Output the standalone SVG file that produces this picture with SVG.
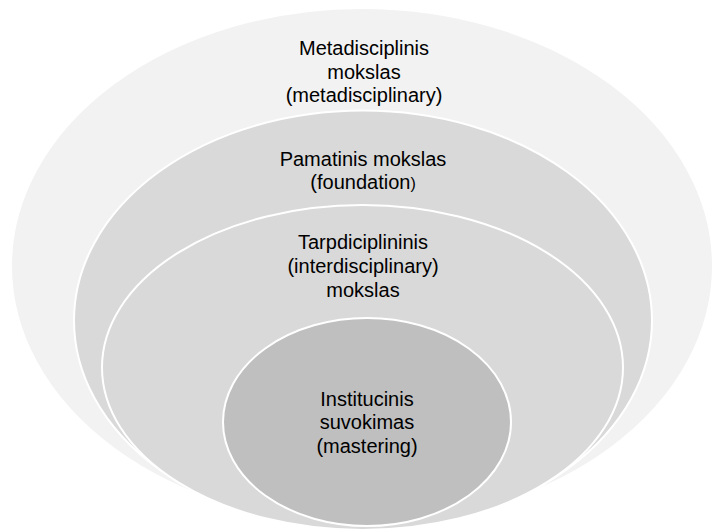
<svg xmlns="http://www.w3.org/2000/svg" width="714" height="532" viewBox="0 0 714 532">
<style>
.lbl{font-family:"Liberation Sans",Arial,sans-serif;font-size:20px;fill:#000;text-anchor:middle}
.ring{stroke:#fff;stroke-width:2}
</style>
<rect width="714" height="532" fill="#fff"/>
<g id="node-metadisciplinary">
<ellipse class="ring" cx="362" cy="266" rx="351" ry="258" fill="#f2f2f2"/>
<text class="lbl" x="364" y="55">Metadisciplinis</text>
<text class="lbl" x="364" y="79">mokslas</text>
<text class="lbl" x="364" y="102">(metadisciplinary)</text>
</g>
<g id="node-foundation">
<ellipse class="ring" cx="363" cy="320.5" rx="289" ry="210" fill="#d9d9d9"/>
<text class="lbl" x="363" y="166">Pamatinis mokslas</text>
<text class="lbl" x="363" y="189">(foundation<tspan font-size="16">)</tspan></text>
</g>
<g id="node-interdisciplinary">
<ellipse class="ring" cx="362.5" cy="367.5" rx="260.5" ry="162.5" fill="#d9d9d9"/>
<text class="lbl" x="363" y="249">Tarpdiciplininis</text>
<text class="lbl" x="363" y="273">(interdisciplinary)</text>
<text class="lbl" x="363" y="297">mokslas</text>
</g>
<g id="node-mastering">
<ellipse class="ring" cx="367" cy="422" rx="144" ry="104" fill="#bfbfbf"/>
<text class="lbl" x="367" y="406">Institucinis</text>
<text class="lbl" x="367" y="429">suvokimas</text>
<text class="lbl" x="367" y="453">(mastering)</text>
</g>
<g id="connectors"/>
</svg>
